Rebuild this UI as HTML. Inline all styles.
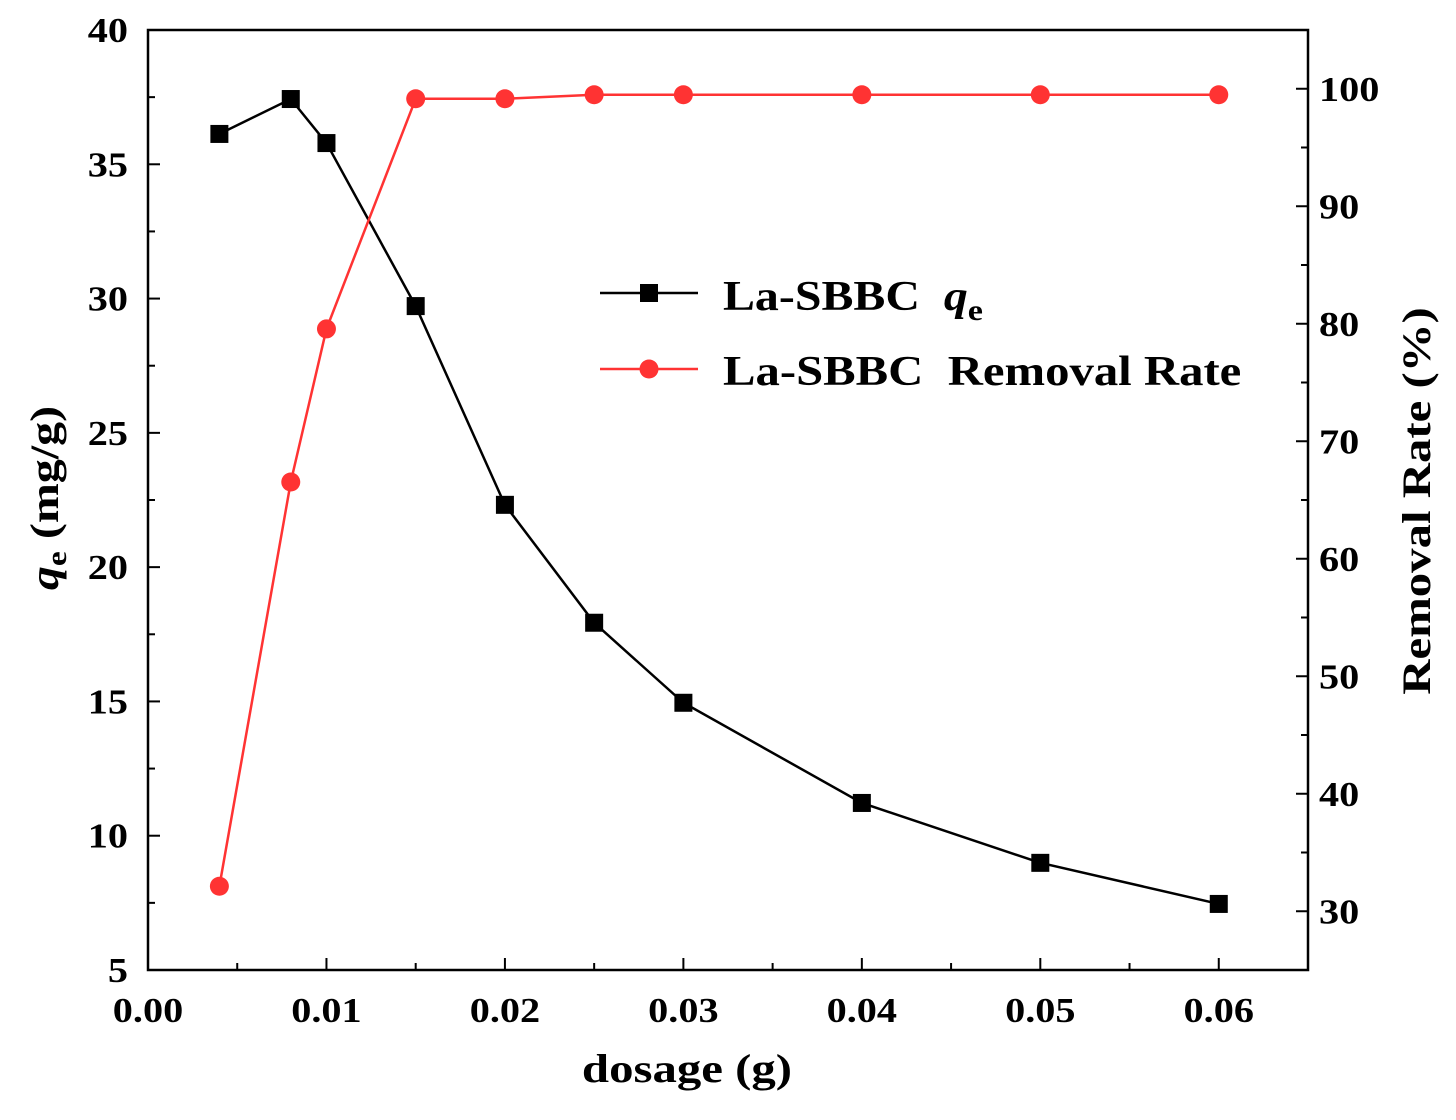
<!DOCTYPE html>
<html><head><meta charset="utf-8"><style>
html,body{margin:0;padding:0;background:#fff;}
svg text{font-family:"Liberation Serif",serif;font-weight:bold;fill:#000;white-space:pre;}
</style></head><body>
<svg id="chart" width="1456" height="1115" viewBox="0 0 1456 1115" xmlns="http://www.w3.org/2000/svg"></svg>
<script>
const dosages = [0.004, 0.008, 0.01, 0.015, 0.02, 0.025, 0.03, 0.04, 0.05, 0.06];
const qeValues = [36.13, 37.43, 35.79, 29.72, 22.32, 17.93, 14.95, 11.22, 8.99, 7.46];
const removalValues = [32.13, 66.53, 79.56, 99.15, 99.15, 99.49, 99.49, 99.49, 99.49, 99.49];
const xTickLabels = ["0.00","0.01","0.02","0.03","0.04","0.05","0.06"];
const xTickValues = [0,0.01,0.02,0.03,0.04,0.05,0.06];
const leftTickValues = [5,10,15,20,25,30,35,40];
const rightTickValues = [30,40,50,60,70,80,90,100];

const L=148,R=1308,T=30,B=970;
const xs=v=>L+(v-0)/(0.065)*(R-L);
const yl=v=>B-(v-5)/35*(B-T);
const yr=v=>B-(v-25)/80*(B-T);
const svg=document.getElementById('chart');
const NS='http://www.w3.org/2000/svg';
function el(tag,attrs,parent){const e=document.createElementNS(NS,tag);for(const k in attrs)e.setAttribute(k,attrs[k]);(parent||svg).appendChild(e);return e;}
function stretch(t,f){const w=t.getComputedTextLength();t.setAttribute('textLength',w*f);t.setAttribute('lengthAdjust','spacingAndGlyphs');}

const frame=el('rect',{x:L,y:T,width:R-L,height:B-T,fill:'none',stroke:'#000','stroke-width':2.5});



for(let v=0;v<=0.0651;v+=0.005){
  const x=xs(v);const major=Math.abs(v*100-Math.round(v*100))<1e-6;
  const t=el('line',{x1:x,x2:x,y1:B,y2:B-(major?12:7),stroke:'#000','stroke-width':2});
  
  
}
xTickValues.forEach((v,i)=>{
  const t=el('text',{x:xs(v),y:1022,'text-anchor':'middle','font-size':35});
  t.textContent=xTickLabels[i];
  
  
  stretch(t,1.15);
});
for(let v=5;v<=40.01;v+=2.5){
  const y=yl(v);const major=Math.abs(v%5)<1e-6;
  const t=el('line',{x1:L,x2:L+(major?12:7),y1:y,y2:y,stroke:'#000','stroke-width':2});
  
  
}
leftTickValues.forEach(v=>{
  const t=el('text',{x:128,y:yl(v)+12,'text-anchor':'end','font-size':35});
  t.textContent=String(v);
  
  
  stretch(t,1.15);
});
for(let v=25;v<=105.01;v+=5){
  const y=yr(v);const major=Math.abs(v%10)<1e-6;
  const t=el('line',{x1:R,x2:R-(major?12:7),y1:y,y2:y,stroke:'#000','stroke-width':2});
  
  
}
rightTickValues.forEach(v=>{
  const t=el('text',{x:1319,y:yr(v)+12,'text-anchor':'start','font-size':35});
  t.textContent=String(v);
  
  
  stretch(t,1.15);
});

const xt=el('text',{x:687,y:1082,'text-anchor':'middle','font-size':40});
xt.textContent='dosage (g)';


stretch(xt,1.22);
const ylt=el('text',{x:0,y:0,'text-anchor':'middle','font-size':40,transform:'translate(58,498) rotate(-90)'});
ylt.innerHTML='<tspan font-style="italic">q</tspan><tspan font-size="28" dy="8">e</tspan><tspan dy="-8"> (mg/g)</tspan>';


stretch(ylt,1.2);
const yrt=el('text',{x:0,y:0,'text-anchor':'middle','font-size':40,transform:'translate(1430,501) rotate(-90)'});
yrt.textContent='Removal Rate (%)';


stretch(yrt,1.22);

const qePath=el('polyline',{points:dosages.map((d,i)=>xs(d)+','+yl(qeValues[i])).join(' '),fill:'none',stroke:'#000','stroke-width':2.5});


const rrPath=el('polyline',{points:dosages.map((d,i)=>xs(d)+','+yr(removalValues[i])).join(' '),fill:'none',stroke:'#ff3333','stroke-width':2.5});


dosages.forEach((d,i)=>{
  const m=el('rect',{x:xs(d)-9,y:yl(qeValues[i])-9,width:18,height:18,fill:'#000'});
  
  
  const c=el('circle',{cx:xs(d),cy:yr(removalValues[i]),r:9.5,fill:'#ff3333'});
  
  
});

const g=el('g',{});


el('line',{x1:600,x2:698,y1:293,y2:293,stroke:'#000','stroke-width':2.5},g);
el('rect',{x:640,y:284,width:18,height:18,fill:'#000'},g);
const l1=el('text',{x:723,y:310,'font-size':42},g);
l1.innerHTML='La-SBBC  <tspan font-style="italic">q</tspan><tspan font-size="30" dy="10">e</tspan>';


stretch(l1,1.14);
el('line',{x1:600,x2:698,y1:369,y2:369,stroke:'#ff3333','stroke-width':2.5},g);
el('circle',{cx:649,cy:369,r:9.5,fill:'#ff3333'},g);
const l2=el('text',{x:723,y:385,'font-size':42},g);
l2.textContent='La-SBBC  Removal Rate';


stretch(l2,1.16);
</script>
</body></html>
